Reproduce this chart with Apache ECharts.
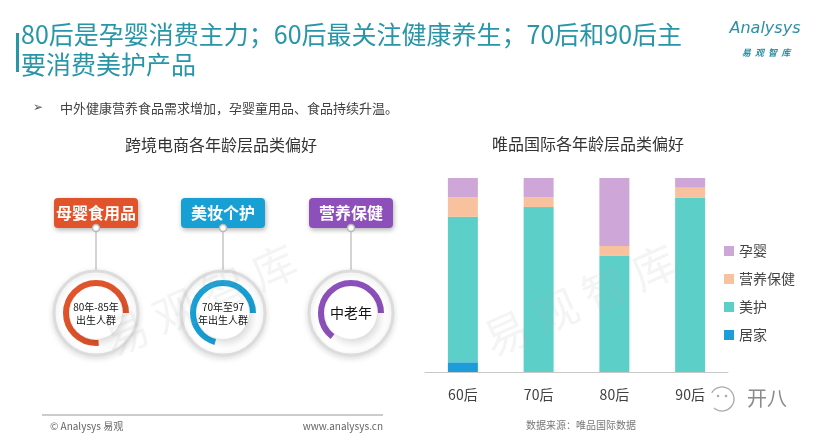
<!DOCTYPE html>
<html><head><meta charset="utf-8">
<script src="https://cdn.jsdelivr.net/npm/echarts@6/dist/echarts.min.js"></script>
<style>html,body{margin:0;padding:0;background:#fff}#c{width:822px;height:441px}</style>
</head><body><div id="c"></div>
<script>
// ---- data ----
const categories = ['60后', '70后', '80后', '90后'];
const homeVals = [5, 0, 0, 0];        // 居家
const beautyVals = [75, 85, 60, 90];  // 美护
const healthVals = [10, 5, 5, 5];     // 营养保健
const babyVals = [10, 10, 35, 5];     // 孕婴
const legendOrder = ['孕婴', '营养保健', '美护', '居家'];
const badgeLabels = ['母婴食用品', '美妆个护', '营养保健'];
const ringLabels = [['80年-85年', '出生人群'], ['70年至97', '年出生人群'], ['中老年']];
const ringSpans = [275, 255, 232];

// ---- styles ----
const FF = '"Noto Sans CJK SC", "Noto Sans", sans-serif';
const colors = { home: '#1C9DD9', beauty: '#5CD0C8', health: '#F8C29E', baby: '#CEA6D8' };
const badgeColors = ['#E0532B', '#189FD4', '#8D50BB'];
const centersX = [96, 223, 351];
const cy = 313;

function txt(x, y, text, font, fill, align, extra) {
  return Object.assign({
    type: 'text', x: x, y: y, z: 10,
    style: { text: text, font: font, fill: fill, textAlign: align || 'left', align: align || 'left',
             textVerticalAlign: 'middle', verticalAlign: 'middle' }
  }, extra || {});
}

const graphics = [];
// title
graphics.push({ type: 'rect', shape: { x: 16, y: 33, width: 3, height: 39 }, style: { fill: '#2896A9' } });
graphics.push(txt(21, 34, '80后是孕婴消费主力；60后最关注健康养生；70后和90后主', '25px ' + FF, '#2896A9'));
graphics.push(txt(21, 64, '要消费美护产品', '25px ' + FF, '#2896A9'));
// logo
graphics.push(txt(765, 29, 'Analysys', 'italic 16px "DejaVu Sans", sans-serif', '#2A8FA7', 'center'));
graphics.push(txt(766, 53, '易  观  智  库', 'italic bold 9px ' + FF, '#2A8FA7', 'center'));
// subtitle
graphics.push(txt(33, 108, '➢', '12px "DejaVu Sans", sans-serif', '#555'));
graphics.push(txt(60, 108, '中外健康营养食品需求增加，孕婴童用品、食品持续升温。', '13px ' + FF, '#404040'));
// section titles
graphics.push(txt(221, 145, '跨境电商各年龄层品类偏好', '16px ' + FF, '#333', 'center'));
graphics.push(txt(588, 144, '唯品国际各年龄层品类偏好', '16px ' + FF, '#333', 'center'));

// infographic
for (let i = 0; i < 3; i++) {
  const cx = centersX[i];
  graphics.push({ type: 'rect', shape: { x: cx - 42, y: 198, width: 84, height: 30, r: 4 },
    style: { fill: badgeColors[i], shadowBlur: 5, shadowOffsetY: 2, shadowOffsetX: 1, shadowColor: 'rgba(0,0,0,0.3)' }, z: 5 });
  graphics.push(txt(cx, 213, badgeLabels[i], 'bold 16px ' + FF, '#fff', 'center'));
  graphics.push({ type: 'line', shape: { x1: cx, y1: 231, x2: cx, y2: 271 }, style: { stroke: '#c4c4c4', lineWidth: 1.5 }, z: 5 });
  graphics.push({ type: 'circle', shape: { cx: cx, cy: 228, r: 3.5 }, style: { fill: '#fff', stroke: '#b8b8b8', lineWidth: 1.5 }, z: 6 });
  // outer ring
  graphics.push({ type: 'circle', shape: { cx: cx, cy: cy, r: 42 },
    style: { fill: '#fff', stroke: '#dcdcdc', lineWidth: 3, shadowBlur: 6, shadowColor: 'rgba(0,0,0,0.12)', shadowOffsetY: 2 }, z: 5 });
  // coloured arc
  graphics.push({ type: 'arc', shape: { cx: cx, cy: cy, r: 30, startAngle: 0, endAngle: -ringSpans[i] * Math.PI / 180, clockwise: false },
    style: { stroke: badgeColors[i], lineWidth: 6, fill: null }, z: 6 });
  // inner white disk
  graphics.push({ type: 'circle', shape: { cx: cx, cy: cy, r: 26 },
    style: { fill: '#fff', shadowBlur: 8, shadowOffsetX: 3, shadowOffsetY: 4, shadowColor: 'rgba(0,0,0,0.15)' }, z: 7 });
  const lines = ringLabels[i];
  if (lines.length === 2) {
    graphics.push(txt(cx, cy - 6, lines[0], '10px ' + FF, '#111', 'center'));
    graphics.push(txt(cx, cy + 7, lines[1], '10px ' + FF, '#111', 'center'));
  } else {
    graphics.push(txt(cx, cy, lines[0], '14px ' + FF, '#111', 'center'));
  }
}

// footer
graphics.push({ type: 'line', shape: { x1: 42, y1: 415, x2: 383, y2: 415 }, style: { stroke: '#999', lineWidth: 1 } });
graphics.push(txt(50, 426, '© Analysys 易观', '10px ' + FF, '#666'));
graphics.push(txt(383, 426, 'www.analysys.cn', '10px ' + FF, '#666', 'right'));
graphics.push(txt(581, 425, '数据来源：唯品国际数据', '10px ' + FF, '#777', 'center'));

// watermarks
graphics.push(txt(200, 300, '易 观 智 库', '44px ' + FF, 'rgba(170,170,170,0.13)', 'center', { rotation: 0.42, z: 100 }));
graphics.push(txt(580, 300, '易 观 智 库', '44px ' + FF, 'rgba(170,170,170,0.13)', 'center', { rotation: 0.42, z: 100 }));
// wechat mark
graphics.push({ type: 'arc', shape: { cx: 722, cy: 399, r: 12, startAngle: -2.6, endAngle: 2.3, clockwise: true },
  style: { stroke: '#aaa', lineWidth: 1.3, fill: null }, z: 100 });
graphics.push({ type: 'circle', shape: { cx: 718, cy: 396, r: 1.3 }, style: { fill: '#aaa' }, z: 100 });
graphics.push({ type: 'circle', shape: { cx: 726, cy: 396, r: 1.3 }, style: { fill: '#aaa' }, z: 100 });
graphics.push(txt(767, 398, '开八', '20px ' + FF, '#8a8a8a', 'center', { z: 100 }));

const chart = echarts.init(document.getElementById('c'), null, { renderer: 'canvas' });
chart.setOption({
  animation: false,
  backgroundColor: '#fff',
  grid: { left: 425, right: 94, top: 178, bottom: 69 },
  legend: {
    orient: 'vertical', left: 719, top: 239, data: legendOrder,
    itemWidth: 10, itemHeight: 10, itemGap: 14, icon: 'rect',
    textStyle: { fontSize: 14, lineHeight: 14, color: '#444', fontFamily: FF }
  },
  xAxis: {
    type: 'category', data: categories,
    axisLine: { lineStyle: { color: '#c8c8c8' } }, axisTick: { show: false },
    axisLabel: { fontSize: 14, color: '#404040', margin: 16, fontFamily: FF }
  },
  yAxis: { type: 'value', min: 0, max: 100, show: false },
  series: [
    { name: '居家', type: 'bar', stack: 'a', barWidth: 30, data: homeVals, itemStyle: { color: colors.home } },
    { name: '美护', type: 'bar', stack: 'a', barWidth: 30, data: beautyVals, itemStyle: { color: colors.beauty } },
    { name: '营养保健', type: 'bar', stack: 'a', barWidth: 30, data: healthVals, itemStyle: { color: colors.health } },
    { name: '孕婴', type: 'bar', stack: 'a', barWidth: 30, data: babyVals, itemStyle: { color: colors.baby } }
  ],
  graphic: graphics
});
</script></body></html>
